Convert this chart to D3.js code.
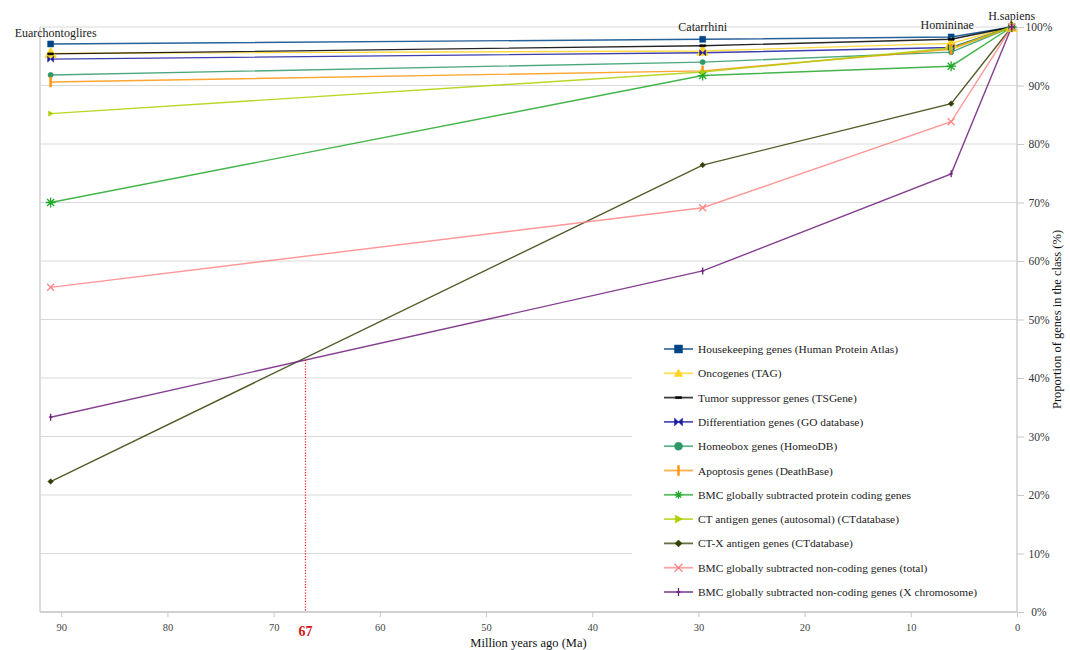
<!DOCTYPE html>
<html>
<head>
<meta charset="utf-8">
<script src="https://cdn.jsdelivr.net/npm/d3@7"></script>
<style>
  html, body { margin: 0; padding: 0; background: #fff; }
  svg { display: block; font-family: "Liberation Serif", "Times New Roman", serif; }
</style>
</head>
<body>
<svg id="chart" width="1070" height="650"></svg>
<script>
// Evolutionary nodes (million years ago) and their names
const clades = ["Euarchontoglires", "Catarrhini", "Homininae", "H.sapiens"];
const cladeMa = [91, 29.6, 6.2, 0.5];

// Proportion of genes in each class (%) present at each node
const housekeeping   = [97.1, 97.9, 98.3, 100];
const oncogenes      = [95.5, 95.9, 97.2, 100];
const tumorSupp      = [95.4, 96.8, 97.9, 100];
const differentiation = [94.5, 95.6, 96.5, 100];
const homeobox       = [91.8, 94.0, 95.7, 100];
const apoptosis      = [90.6, 92.5, 96.2, 100];
const bmcProtein     = [70.0, 91.7, 93.3, 100];
const ctAutosomal    = [85.2, 92.3, 96.4, 100];
const ctX            = [22.3, 76.4, 86.9, 100];
const bmcNonCoding   = [55.5, 69.1, 83.8, 100];
const bmcNonCodingX  = [33.3, 58.3, 74.9, 100];

const seriesNames = [
  "Housekeeping genes (Human Protein Atlas)",
  "Oncogenes (TAG)",
  "Tumor suppressor genes (TSGene)",
  "Differentiation genes (GO database)",
  "Homeobox genes (HomeoDB)",
  "Apoptosis genes (DeathBase)",
  "BMC globally subtracted protein coding genes",
  "CT antigen genes (autosomal) (CTdatabase)",
  "CT-X antigen genes (CTdatabase)",
  "BMC globally subtracted non-coding genes (total)",
  "BMC globally subtracted non-coding genes (X chromosome)"
];
const seriesValues = [housekeeping, oncogenes, tumorSupp, differentiation, homeobox,
  apoptosis, bmcProtein, ctAutosomal, ctX, bmcNonCoding, bmcNonCodingX];

// Axis ticks
const xTicks = [90, 80, 70, 60, 50, 40, 30, 20, 10, 0];
const yTicks = [0, 10, 20, 30, 40, 50, 60, 70, 80, 90, 100];

// Marked divergence time
const markerMa = 67;

// ---- styling ----
const colors = ["#004586", "#ffd320", "#000000", "#1c1ca0", "#2e9968", "#ff950e",
  "#22a82a", "#aecf00", "#314004", "#ff8585", "#6e1e7c"];
const shapes = ["square", "triUp", "dash", "bowtie", "circle", "vbar",
  "asterisk", "triRight", "diamond", "cross", "plus"];

const svg = d3.select("#chart");
const plot = { left: 40, right: 1017, top: 27, bottom: 612 };

const x = d3.scaleLinear().domain([92, 0]).range([plot.left, plot.right]);
const y = d3.scaleLinear().domain([0, 100]).range([plot.bottom, plot.top]);

function markerPath(shape, s) {
  switch (shape) {
    case "square": return { d: `M${-s},${-s}h${2*s}v${2*s}h${-2*s}Z`, fill: true };
    case "triUp": return { d: `M0,${-s*1.1}L${s*1.05},${s*0.8}L${-s*1.05},${s*0.8}Z`, fill: true };
    case "dash": return { d: `M${-s},-1h${2*s}v2h${-2*s}Z`, fill: true };
    case "bowtie": return { d: `M${-s},${-s}L0,0L${-s},${s}ZM${s},${-s}L0,0L${s},${s}Z`, fill: true };
    case "circle": return { d: `M${s},0A${s},${s} 0 1,1 ${-s},0A${s},${s} 0 1,1 ${s},0Z`, fill: true };
    case "vbar": return { d: `M-1,${-s}h2v${2*s}h-2Z`, fill: true };
    case "asterisk": return { d: `M0,${-s}V${s}M${-s},0H${s}M${-s*0.7},${-s*0.7}L${s*0.7},${s*0.7}M${-s*0.7},${s*0.7}L${s*0.7},${-s*0.7}`, fill: false };
    case "triRight": return { d: `M${-s*0.8},${-s}L${s},0L${-s*0.8},${s}Z`, fill: true };
    case "diamond": return { d: `M0,${-s}L${s},0L0,${s}L${-s},0Z`, fill: true };
    case "cross": return { d: `M${-s},${-s}L${s},${s}M${-s},${s}L${s},${-s}`, fill: false };
    case "plus": return { d: `M0,${-s}V${s}M${-s*0.5},0H${s*0.5}`, fill: false };
  }
}
const markerSize = { square: 3, triUp: 5.5, dash: 3, bowtie: 3, circle: 2.6, vbar: 5,
  asterisk: 5, triRight: 2.6, diamond: 2.8, cross: 3.5, plus: 3.5 };
const legendMarkerSize = { square: 4, triUp: 4, dash: 3, bowtie: 4, circle: 4, vbar: 5,
  asterisk: 4, triRight: 4, diamond: 3.5, cross: 4, plus: 4 };

function drawMarker(g, shape, color, s, tx, ty) {
  const m = markerPath(shape, s);
  g.append("path")
    .attr("d", m.d)
    .attr("transform", `translate(${tx},${ty})`)
    .attr("fill", m.fill ? color : "none")
    .attr("stroke", color)
    .attr("stroke-width", m.fill ? 0.5 : 1.3);
}

// ---- grid ----
const grid = svg.append("g");
grid.selectAll("line").data(yTicks).join("line")
  .attr("x1", plot.left).attr("x2", plot.right)
  .attr("y1", d => y(d)).attr("y2", d => y(d))
  .attr("stroke", "#d9d9d9").attr("stroke-width", 1.2);

// axes lines
svg.append("line").attr("x1", plot.left).attr("x2", plot.left)
  .attr("y1", plot.top).attr("y2", plot.bottom)
  .attr("stroke", "#d0d0d0").attr("stroke-width", 1.5);
svg.append("line").attr("x1", plot.right).attr("x2", plot.right)
  .attr("y1", plot.top).attr("y2", plot.bottom)
  .attr("stroke", "#cfcfcf").attr("stroke-width", 1.5);
svg.append("line").attr("x1", plot.left).attr("x2", plot.right)
  .attr("y1", plot.bottom).attr("y2", plot.bottom)
  .attr("stroke", "#c8c8c8").attr("stroke-width", 1.5);

// ---- series ----
const line = d3.line().x((d, i) => x(cladeMa[i])).y(d => y(d));
const seriesG = svg.append("g");
seriesValues.forEach((vals, k) => {
  seriesG.append("path")
    .attr("d", line(vals))
    .attr("fill", "none")
    .attr("stroke", colors[k])
    .attr("stroke-width", 1.4)
    .attr("stroke-opacity", 0.85);
});
seriesValues.forEach((vals, k) => {
  vals.forEach((v, i) => {
    drawMarker(seriesG, shapes[k], colors[k], markerSize[shapes[k]], x(cladeMa[i]), y(v));
  });
});

// ---- x axis ----
const xAxis = d3.axisBottom(x).tickValues(xTicks).tickSize(5).tickPadding(7).tickFormat(d3.format("d"));
const xg = svg.append("g").attr("transform", `translate(0,${plot.bottom})`).call(xAxis);
xg.select(".domain").remove();
xg.selectAll(".tick line").attr("stroke", "#c8c8c8");
xg.selectAll(".tick text").attr("fill", "#444").attr("font-size", 10.5)
  .attr("font-family", "Liberation Serif, serif");

// ---- right y axis ----
const yAxis = d3.axisRight(y).tickValues(yTicks).tickSize(7).tickPadding(0)
  .tickFormat(d => d + "%");
const yg = svg.append("g").attr("transform", `translate(${plot.right},0)`).call(yAxis);
yg.select(".domain").remove();
yg.selectAll(".tick line").attr("stroke", "#c8c8c8");
yg.selectAll(".tick text").attr("x", 22).attr("text-anchor", "middle")
  .attr("fill", "#333").attr("font-size", 11.5)
  .attr("font-family", "Liberation Serif, serif");

// axis titles
svg.append("text").attr("x", (plot.left + plot.right) / 2).attr("y", 647)
  .attr("text-anchor", "middle").attr("font-size", 12.5).attr("fill", "#111")
  .text("Million years ago (Ma)");
svg.append("text")
  .attr("transform", `translate(1061,${(plot.top + plot.bottom) / 2}) rotate(-90)`)
  .attr("text-anchor", "middle").attr("font-size", 12.5).attr("fill", "#111")
  .text("Proportion of genes in the class (%)");

// ---- clade labels ----
const cladeLabelDx = [5, 0, -4, 0];
const cladeLabelY = [37, 31, 29, 20];
svg.append("g").selectAll("text").data(clades).join("text")
  .attr("x", (d, i) => x(cladeMa[i]) + cladeLabelDx[i])
  .attr("y", (d, i) => cladeLabelY[i])
  .attr("text-anchor", "middle")
  .attr("font-size", 12).attr("fill", "#222")
  .text(d => d);

// ---- legend ----
const lg = svg.append("g");
lg.append("rect").attr("x", 632).attr("y", 333).attr("width", plot.right - 633)
  .attr("height", plot.bottom - 334).attr("fill", "#fff");
seriesNames.forEach((name, k) => {
  const ly = 349 + k * 24.3;
  lg.append("line").attr("x1", 664).attr("x2", 693).attr("y1", ly).attr("y2", ly)
    .attr("stroke", colors[k]).attr("stroke-width", 1.8).attr("stroke-opacity", 0.75);
  drawMarker(lg, shapes[k], colors[k], legendMarkerSize[shapes[k]], 678.5, ly);
  lg.append("text").attr("x", 698).attr("y", ly + 4)
    .attr("font-size", 11.4).attr("fill", "#222").text(name);
});

// ---- divergence marker: dotted drop line at the labelled time ----
const seg = d3.scaleLinear().domain([cladeMa[0], cladeMa[1]]).range([bmcNonCodingX[0], bmcNonCodingX[1]]);
svg.append("line")
  .attr("x1", x(markerMa)).attr("x2", x(markerMa))
  .attr("y1", y(seg(markerMa))).attr("y2", plot.bottom)
  .attr("stroke", "#e02222").attr("stroke-width", 1.3).attr("stroke-dasharray", "1.2,1.6");
svg.append("text").attr("x", x(markerMa)).attr("y", 636)
  .attr("text-anchor", "middle").attr("font-size", 14).attr("font-weight", "bold")
  .attr("fill", "#d01818").text(String(markerMa));
</script>
</body>
</html>
